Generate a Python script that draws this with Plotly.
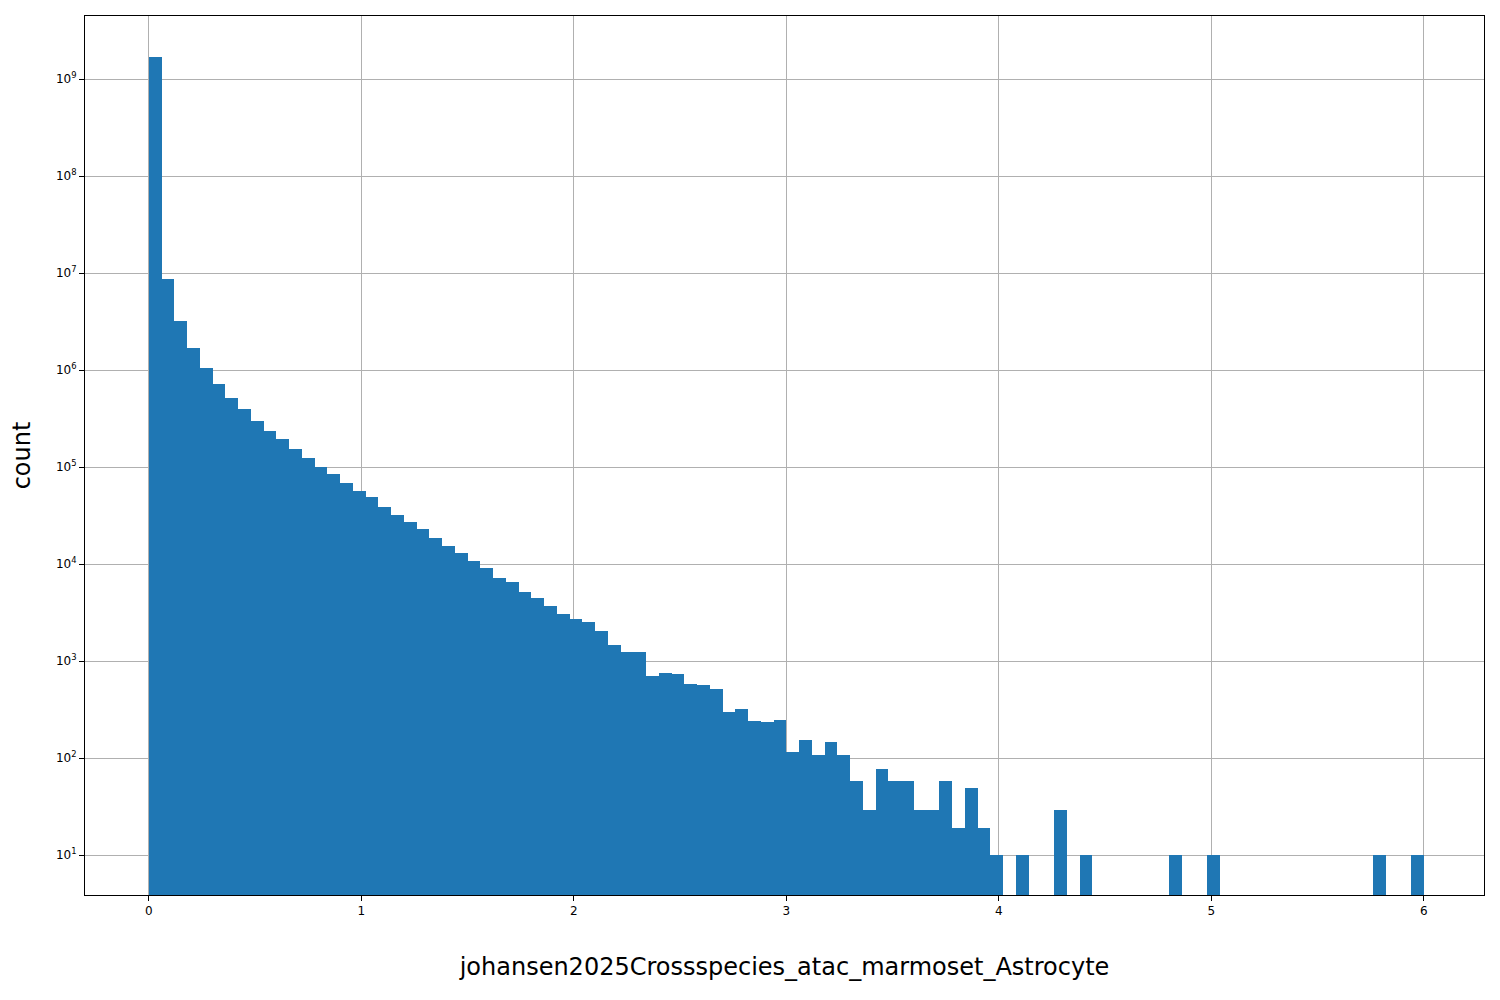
import plotly.graph_objects as go

bin_width = 0.06
counts = [1.7e9, 8.7e6, 3.2e6, 1.7e6, 1.05e6, 7.1e5, 5.2e5, 4.0e5, 3.0e5, 2.35e5,
          1.95e5, 1.55e5, 1.25e5, 1.0e5, 8.4e4, 6.8e4, 5.6e4, 4.9e4, 3.9e4, 3.2e4,
          2.7e4, 2.3e4, 1.85e4, 1.55e4, 1.3e4, 1.07e4, 9.0e3, 7.2e3, 6.6e3, 5.2e3,
          4.5e3, 3.7e3, 3.05e3, 2.7e3, 2.55e3, 2.05e3, 1.45e3, 1.25e3, 1.25e3, 700,
          760, 740, 580, 560, 510, 300, 320, 240, 235, 245,
          115, 155, 108, 148, 108, 58, 29, 78, 58, 58,
          29, 29, 58, 19, 49, 19, 10, 0, 10, 0,
          0, 29, 0, 10, 0, 0, 0, 0, 0, 0,
          10, 0, 0, 10, 0, 0, 0, 0, 0, 0,
          0, 0, 0, 0, 0, 0, 10, 0, 0, 10]
xtick_vals = [0, 1, 2, 3, 4, 5, 6]
ytick_vals = [1e1, 1e2, 1e3, 1e4, 1e5, 1e6, 1e7, 1e8, 1e9]
ytick_text = ["10<sup>%d</sup>" % e for e in range(1, 10)]

centers = [bin_width * (i + 0.5) for i in range(len(counts))]
yvals = [c if c > 0 else None for c in counts]

fig = go.Figure(go.Bar(x=centers, y=yvals, width=bin_width, marker=dict(color="#1f77b4", line=dict(width=0))))
axis_common = dict(showline=True, linecolor="black", mirror=True, ticks="outside", tickcolor="black",
                   showgrid=True, gridcolor="#b0b0b0", gridwidth=1, zeroline=False, automargin=False,
                   tickfont=dict(family="DejaVu Sans", size=12, color="black"))
fig.update_layout(
    width=1500, height=1000, plot_bgcolor="white", paper_bgcolor="white",
    margin=dict(l=77, r=24, t=8, b=113, pad=0), showlegend=False, bargap=0,
    xaxis=dict(range=[-0.30, 6.283], tickvals=xtick_vals,
               title=dict(text="johansen2025Crossspecies_atac_marmoset_Astrocyte",
                          font=dict(family="DejaVu Sans", size=24, color="black"), standoff=40),
               **axis_common),
    yaxis=dict(type="log", range=[0.588, 9.65], tickvals=ytick_vals, ticktext=ytick_text,
               title=dict(text="count", font=dict(family="DejaVu Sans", size=24, color="black"), standoff=22),
               **axis_common),
)
fig.write_html("out.html")
